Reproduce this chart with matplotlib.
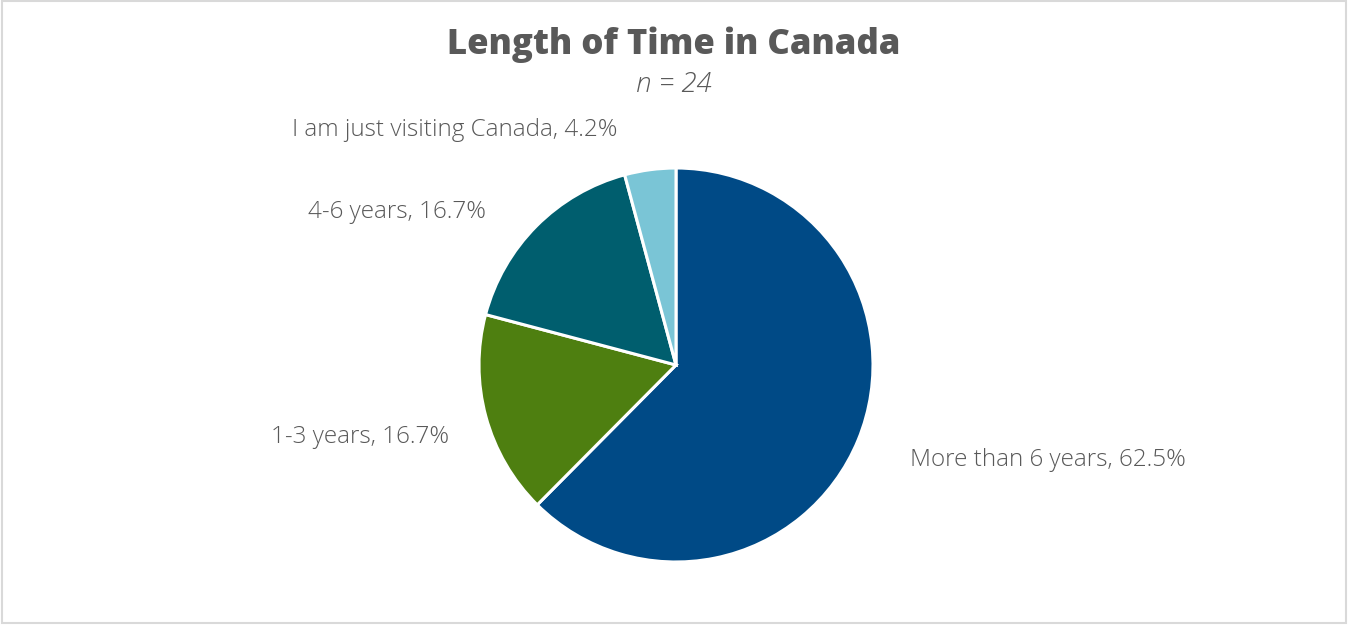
import matplotlib
matplotlib.use("Agg")
from matplotlib import pyplot as plt
from matplotlib.patches import Rectangle

labels = ['More than 6 years', '1-3 years', '4-6 years', 'I am just visiting Canada']
shares = [62.5, 16.7, 16.7, 4.2]
colors = ['#004A86', '#4E7F10', '#005E6E', '#7AC5D6']
# label anchor positions in figure pixels (from top-left)
label_pos = [(1048, 460), (360, 437), (397, 212), (455, 130)]

W, H = 1348, 625
fig = plt.figure(figsize=(W / 100, H / 100), dpi=100)
fig.patch.set_facecolor('white')
fig.patches.append(Rectangle((0.0015, 0.003), 0.997, 0.995, transform=fig.transFigure,
                             fill=False, edgecolor='#D9D9D9', linewidth=1.5))

cx, cy, r = 676, 365, 197
ax = fig.add_axes([(cx - r) / W, (H - cy - r) / H, 2 * r / W, 2 * r / H])
ax.pie(shares, colors=colors, startangle=90, counterclock=False,
       wedgeprops=dict(edgecolor='white', linewidth=2.2))
ax.set_aspect('equal')
ax.set_xlim(-1, 1)
ax.set_ylim(-1, 1)
ax.axis('off')

txt = '#595959'
for lab, s, (px, py) in zip(labels, shares, label_pos):
    fig.text(px / W, 1 - py / H, f'{lab}, {s}%', ha='center', va='center',
             fontsize=17.5, color=txt, family='Open Sans', fontweight='light')

fig.text(0.5, 1 - 45 / H, 'Length of Time in Canada', ha='center', va='center',
         fontsize=25, fontweight='heavy', color=txt, family='Open Sans')
fig.text(0.5, 1 - 84 / H, 'n = 24', ha='center', va='center',
         fontsize=20, style='italic', color=txt, family='Open Sans', fontweight='light')

fig.savefig('out.png', dpi=100)
